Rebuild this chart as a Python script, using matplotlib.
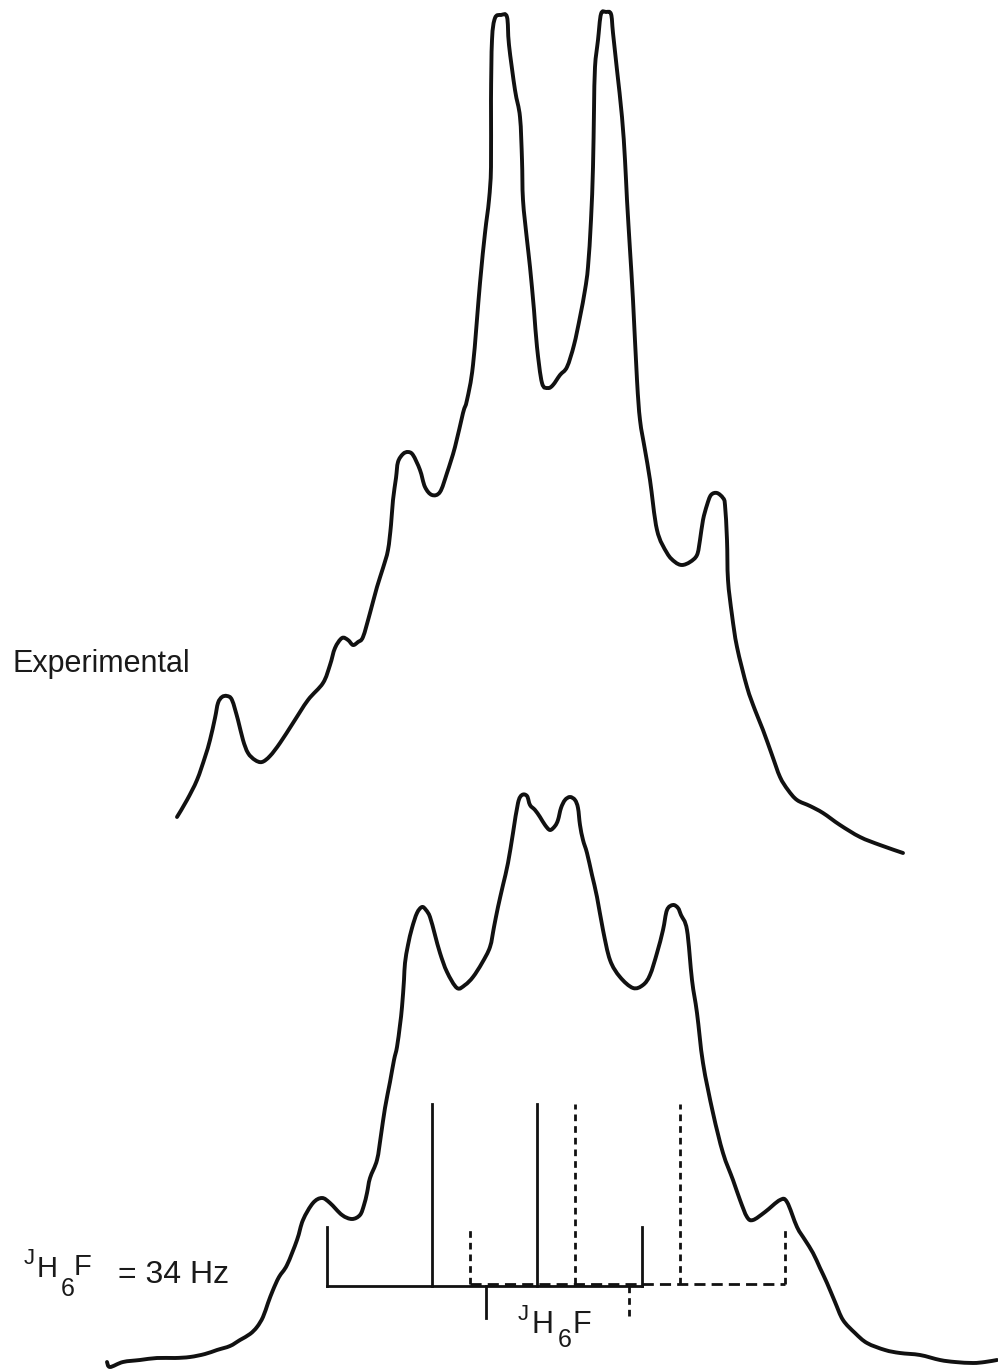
import matplotlib
matplotlib.use("Agg")
import matplotlib.pyplot as plt
from matplotlib.path import Path
from matplotlib.patches import PathPatch

plt.rcParams['font.family'] = ['Liberation Sans', 'DejaVu Sans']

# ---- Experimental spectrum trace (x position, y position; image units, y downwards)
exp_x = [177,187,197,205,210,215,218,222,227,232,238,243,248,255,262,270,280,293,308,323,330,335,342,348,353,358,363,370,377,383,388,391,393,396,398,403,408,413,420,425,432,440,447,455,463,467,473,480,485,489,491,491,492,495,501,507,509,515,520,522,523,527,530,534,537,542,548,553,560,567,574,580,585,588,591,593,594,595,598,601,606,611,613,617,622,625,627,630,633,637,640,645,650,657,667,675,682,690,697,700,703,707,711,717,723,725,727,728,732,737,747,755,763,772,780,788,797,810,823,840,860,880,903]
exp_y = [817,800,780,757,740,718,703,697,696,700,720,740,753,760,762,756,743,723,700,683,665,648,638,640,645,642,637,613,587,568,550,525,500,478,462,454,452,455,470,487,495,492,473,447,413,400,365,283,233,200,167,100,40,18,15,17,45,90,117,160,200,240,267,310,347,383,388,385,375,367,345,317,290,267,220,167,110,67,40,14,12,14,33,70,117,160,200,250,300,380,420,450,480,530,553,562,565,562,555,540,520,505,495,493,498,505,540,580,615,647,687,710,730,755,777,790,800,806,813,825,837,845,853]

# ---- Calculated spectrum trace
calc_x = [107,110,123,140,157,175,190,205,217,230,240,250,257,263,268,273,279,287,297,303,313,322,330,342,352,360,364,367,370,377,381,385,390,394,397,400,402,404,405,408,412,417,422,426,430,435,440,447,457,465,473,482,490,494,498,503,508,513,518,522,527,530,535,540,545,550,555,558,561,565,570,575,578,580,583,587,592,597,603,610,620,633,643,650,657,663,667,673,678,681,687,692,697,703,713,723,733,740,747,753,765,780,787,797,805,813,820,827,835,843,855,867,885,900,920,940,955,973,985,997]
calc_y = [1362,1367,1362,1360,1358,1358,1357,1354,1350,1346,1340,1334,1327,1317,1303,1290,1277,1265,1240,1220,1203,1198,1203,1215,1219,1215,1205,1193,1178,1160,1135,1108,1082,1060,1047,1025,1007,980,963,945,928,913,907,910,917,935,953,972,988,985,977,963,947,927,907,885,863,833,803,795,796,805,810,817,825,830,826,820,808,800,797,800,808,825,840,853,875,897,930,960,977,988,985,975,953,930,910,905,908,915,930,980,1013,1063,1113,1153,1180,1200,1217,1220,1212,1200,1202,1227,1240,1253,1268,1283,1302,1320,1333,1343,1350,1353,1355,1360,1362,1363,1362,1360]

# ---- Stick diagram (line positions and tops; baseline level)
baseline_y = 1286
solid_x = [327, 432, 537, 642]
solid_top = [1227, 1104, 1104, 1227]
dotted_x = [470, 575, 680, 785]
dotted_top = [1227, 1104, 1104, 1227]
marker_solid_x = 486
marker_dotted_x = 629
marker_bottom = 1318

fig = plt.figure(figsize=(9.98, 13.72), dpi=100)
ax = fig.add_axes([0, 0, 1, 1])
ax.set_xlim(0, 998)
ax.set_ylim(1372, 0)
ax.axis('off')


def smooth_path(xs, ys):
    """Build a Catmull-Rom style Bezier path through the traced points."""
    pts = list(zip(xs, ys))
    verts = [pts[0]]
    codes = [Path.MOVETO]
    n = len(pts)
    for i in range(n - 1):
        p0 = pts[i - 1] if i > 0 else pts[i]
        p1 = pts[i]
        p2 = pts[i + 1]
        p3 = pts[i + 2] if i + 2 < n else pts[i + 1]
        c1 = (p1[0] + (p2[0] - p0[0]) / 6.0, p1[1] + (p2[1] - p0[1]) / 6.0)
        c2 = (p2[0] - (p3[0] - p1[0]) / 6.0, p2[1] - (p3[1] - p1[1]) / 6.0)
        verts += [c1, c2, p2]
        codes += [Path.CURVE4] * 3
    return Path(verts, codes)


lw_curve = 2.8
for xs, ys in ((exp_x, exp_y), (calc_x, calc_y)):
    ax.add_patch(PathPatch(smooth_path(xs, ys), facecolor='none', edgecolor='#111111',
                           lw=lw_curve, joinstyle='round', capstyle='round'))

lw_stick = 2.0
col = '#111111'
# solid subspectrum
ax.plot([solid_x[0], solid_x[-1]], [baseline_y, baseline_y], color=col, lw=lw_stick)
for x, t in zip(solid_x, solid_top):
    ax.plot([x, x], [baseline_y, t], color=col, lw=lw_stick)
# dotted subspectrum
ax.plot([dotted_x[0], dotted_x[-1]], [baseline_y - 2, baseline_y - 2], color=col,
        lw=lw_stick, dashes=(4, 2.2))
for x, t in zip(dotted_x, dotted_top):
    ax.plot([x, x], [baseline_y - 2, t], color=col, lw=lw_stick, dashes=(2.4, 1.8))
# coupling markers
ax.plot([marker_solid_x, marker_solid_x], [baseline_y, marker_bottom], color=col, lw=lw_stick)
ax.plot([marker_dotted_x, marker_dotted_x], [baseline_y, marker_bottom], color=col,
        lw=lw_stick, dashes=(2.4, 1.8))

txt = dict(color='#1a1a1a', va='baseline', ha='left')
ax.text(13, 672, 'Experimental', fontsize=22, **txt)

# left label  J_H6F = 34 Hz
ax.text(24, 1264, 'J', fontsize=16, **txt)
ax.text(37, 1277, 'H', fontsize=21, **txt)
ax.text(61, 1296, '6', fontsize=18, **txt)
ax.text(74, 1275, 'F', fontsize=21, **txt)
ax.text(118, 1283, '= 34 Hz', fontsize=23, **txt)

# bottom label  J_H6F
ax.text(518, 1320, 'J', fontsize=16, **txt)
ax.text(532, 1333, 'H', fontsize=22, **txt)
ax.text(558, 1347, '6', fontsize=18, **txt)
ax.text(573, 1333, 'F', fontsize=22, **txt)

fig.savefig('out.png', dpi=100, facecolor='white')
